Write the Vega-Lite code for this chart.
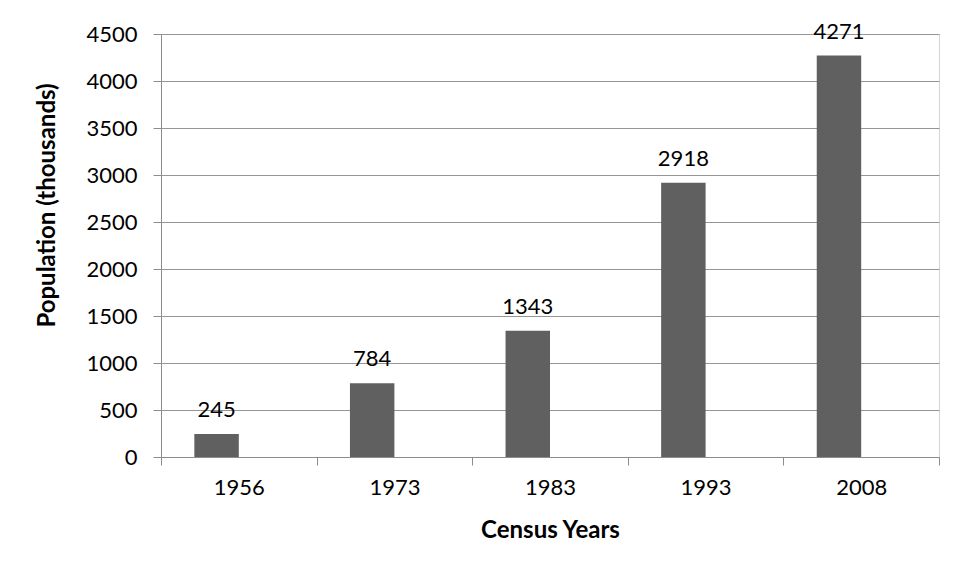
{
  "$schema": "https://vega.github.io/schema/vega-lite/v6.json",
  "autosize": "none",
  "padding": {"left": 161, "top": 34, "right": 19, "bottom": 121},
  "width": 778,
  "height": 423,
  "background": "white",
  "data": {"values": [
    {"year": "1956", "series": "A", "population": 245},
    {"year": "1973", "series": "A", "population": 784},
    {"year": "1983", "series": "A", "population": 1343},
    {"year": "1993", "series": "A", "population": 2918},
    {"year": "2008", "series": "A", "population": 4271}
  ]},
  "config": {
    "font": "Lato",
    "view": {"stroke": "#d4d4d4", "strokeWidth": 1},
    "axis": {"labelFont": "Lato", "titleFont": "Lato", "labelColor": "#000", "titleColor": "#000"}
  },
  "encoding": {
    "x": {"field": "year", "type": "nominal", "sort": null,
      "scale": {"paddingInner": 0, "paddingOuter": 0},
      "axis": {"title": "Census Years", "labelAngle": 0, "labelFontSize": 22, "labelPadding": 12,
        "titleFontSize": 24, "titleFontWeight": "bold", "titlePadding": 20,
        "tickBand": "extent", "tickSize": 8, "tickColor": "#8c8c8c", "domainColor": "#8c8c8c",
        "grid": false}},
    "xOffset": {"field": "series", "type": "nominal",
      "scale": {"domain": ["A", "B"], "paddingInner": 0, "paddingOuter": 0.75}},
    "y": {"field": "population", "type": "quantitative",
      "scale": {"domain": [0, 4500], "nice": false},
      "axis": {"title": "Population (thousands)", "format": "d", "values": [0,500,1000,1500,2000,2500,3000,3500,4000,4500],
        "labelFontSize": 22, "labelPadding": 16, "tickSize": 8, "tickColor": "#8c8c8c",
        "domainColor": "#8c8c8c", "gridColor": "#959595", "titleFontSize": 24, "titleFontWeight": "bold",
        "titlePadding": 26, "titleY": 171}}
  },
  "layer": [
    {"mark": {"type": "bar", "color": "#606060"}},
    {"mark": {"type": "text", "baseline": "alphabetic", "dy": -17, "fontSize": 22, "font": "Lato", "color": "#000"},
      "encoding": {"text": {"field": "population", "type": "quantitative"}}}
  ]
}
